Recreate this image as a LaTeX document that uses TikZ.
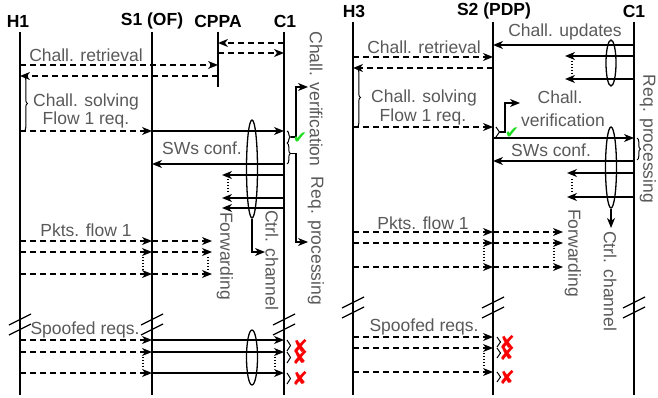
\documentclass[tikz,border=0pt]{standalone}
\usepackage{fontspec}
\setmainfont{Liberation Sans}
\newfontfamily\symfont{DejaVu Sans}
\usetikzlibrary{arrows.meta, positioning, shapes.geometric, decorations.pathreplacing}
\definecolor{txtcolor}{RGB}{89, 89, 89}
\definecolor{okcolor} {RGB}{30, 220, 30}
\definecolor{kocolor} {RGB}{250, 0, 0}
\tikzset{
	life/.style={
		line width=1.3pt, color=black
	},
	arrow/.style={
		-{Stealth[length=10pt, width=8pt, inset=3pt]}, line width=1.3pt, color=black
	},
	dasharrow/.style={
		-{Stealth[length=10pt, width=8pt, inset=3pt]}, dash pattern=on 6pt off 4pt,
		line width=1.3pt, color=black
	},
	dots/.style={
		line width=1.3pt, dash pattern=on 1.3pt off 1.6pt
	},
	brk/.style={
		line width=1.3pt
	},
	brc/.style={
		decorate, decoration={brace, amplitude=3.5pt}, line width=1pt
	},
	chanell/.style={
		ellipse, draw, line width=1.3pt, minimum width=11pt, inner sep=0pt
	},
	head/.style={
		font=\fontsize{17.5}{20}\selectfont\bfseries, inner sep=0pt
	},
	lbl/.style={
		font=\fontsize{17.5}{20}\selectfont, text=txtcolor, inner sep=0pt
	},
	chk/.style={
		font=\symfont\fontsize{17}{17}\selectfont, text=okcolor, inner sep=0pt
	},
	nok/.style={
		font=\symfont\fontsize{19}{19}\selectfont, text=kocolor, inner sep=0pt
	}
}
\begin{document}
\begin{tikzpicture}[x=1pt, y=-1pt]
	\useasboundingbox (0,0) rectangle (658,398);
	
	%% ===============================
	%%  LEFT — H1, S1 (OF), CPPA, C1
	%% ===============================
	\node[head] (h1lbl)   at (18,21)  {H1};
	\node[head] (s1lbl)   at (152,21) {S1 (OF)};
	\node[head] (cppalbl) at (218,21) {CPPA};
	\node[head] (calbl)   at (285,21) {C1};
	
	\coordinate (h1)   at (20,32);
	\coordinate (s1)   at (152,32);
	\coordinate (cppa) at (218,32);
	\coordinate (ca)   at (284,32);
	\coordinate (fwda) at (222,0);
	\coordinate (fwdb) at (212,0);
	
	\draw[life] (h1)   -- (h1 |- 0,395);
	\draw[life] (s1)   -- (s1 |- 0,395);
	\draw[life] (cppa) -- (cppa |- 0,87);
	\draw[life] (ca)   -- (ca |- 0,395);
	
	% challenge retrieval
	\draw[dasharrow] (ca |- 0,43) -- (cppa |- 0,43);
	\draw[dasharrow] (cppa |- 0,53) -- (ca |- 0,53);
	\node[lbl] (retra) at (86,55) {Chall. retrieval};
	\draw[dasharrow] (h1 |- 0,65) -- (cppa |- 0,65);
	\draw[dasharrow] (cppa |- 0,76) -- (h1 |- 0,76);
	
	% challenge solving + flow 1 request
	\draw[brc] (24,76) -- (24,131);
	\node[lbl] (solva) at (86,102) {Chall. solving};
	\node[lbl] (reqa)  at (86,120) {Flow 1 req.};
	\draw[dasharrow] (h1 |- 0,131) -- (s1 |- 0,131);
	\draw[arrow] (s1 |- 0,131) -- (ca |- 0,131);
	
	% verification / processing at C1
	\draw[brc] (287,131) -- (287,143);
	\draw[brc] (287,143) -- (287,164);
	\coordinate (tipa) at (291,137);
	\coordinate (tipb) at (291,153.5);
	\coordinate (va)   at (308,87);
	\coordinate (pa)   at (308,242);
	\draw[arrow] (tipa) -- ++(5,0) |- (va);
	\draw[arrow] (tipb) -- ++(5,0) |- (pa);
	\node[chk] (oka) at (300,138) {✔};
	\node[lbl, rotate=-90] (verifa) at (316,99)  {Chall. verification};
	\node[lbl, rotate=-90] (proca)  at (316,241) {Req. processing};
	
	% switches configuration
	\node[lbl] (confa) at (202,148) {SWs conf.};
	\draw[arrow] (ca |- 0,164) -- (s1 |- 0,164);
	\draw[arrow] (ca |- 0,175) -- (fwda |- 0,175);
	\draw[arrow] (ca |- 0,198) -- (fwda |- 0,198);
	\draw[arrow] (ca |- 0,208) -- (fwda |- 0,208);
	\draw[dots] (228,179) -- (228,193);
	\node[chanell, minimum height=98pt] (chana) at (252,169) {};
	\coordinate (ctrla) at (265,252);
	\draw[arrow] (chana.south) |- (ctrla);
	\node[lbl, rotate=-90] (ctrllbla) at (272,260) {Ctrl. channel};
	\node[lbl, rotate=-90] (fwdlbla)  at (225,256) {Forwarding};
	
	% packets of flow 1
	\node[lbl] (pktsa) at (86,230) {Pkts. flow 1};
	\draw[dasharrow] (h1 |- 0,241) -- (s1 |- 0,241);
	\draw[dasharrow] (h1 |- 0,252) -- (s1 |- 0,252);
	\draw[dasharrow] (h1 |- 0,274) -- (s1 |- 0,274);
	\draw[dasharrow] (s1 |- 0,241) -- (fwdb |- 0,241);
	\draw[dasharrow] (s1 |- 0,252) -- (fwdb |- 0,252);
	\draw[dasharrow] (s1 |- 0,274) -- (fwdb |- 0,274);
	\draw[dots] (143,257) -- (143,269);
	\draw[dots] (208,257) -- (208,269);
	
	% time breaks
	\draw[brk] (9,325) -- (31,314);
	\draw[brk] (9,335) -- (31,324);
	\draw[brk] (141,325) -- (163,314);
	\draw[brk] (141,335) -- (163,324);
	\draw[brk] (273,325) -- (295,314);
	\draw[brk] (273,335) -- (295,324);
	
	% spoofed requests
	\node[lbl] (spoofa) at (85,330) {Spoofed reqs.};
	\draw[dasharrow] (h1 |- 0,340) -- (s1 |- 0,340);
	\draw[dasharrow] (h1 |- 0,352) -- (s1 |- 0,352);
	\draw[dasharrow] (h1 |- 0,373) -- (s1 |- 0,373);
	\draw[arrow] (s1 |- 0,340) -- (ca |- 0,340);
	\draw[arrow] (s1 |- 0,352) -- (ca |- 0,352);
	\draw[arrow] (s1 |- 0,373) -- (ca |- 0,373);
	\draw[dots] (143,357) -- (143,368);
	\draw[dots] (275,357) -- (275,368);
	\node[chanell, minimum height=55pt] (spfa) at (252,357.5) {};
	\draw[brc] (287,340) -- (287,351);
	\draw[brc] (287,352) -- (287,363);
	\draw[brc] (287,373) -- (287,384);
	\node[nok] (koa) at (300,346) {✘};
	\node[nok] (kob) at (300,357) {✘};
	\node[nok] (koc) at (300,378.5) {✘};
	
	%% ===============================
	%%  RIGHT — H3, S2 (PDP), C1
	%% ===============================
	\node[head] (h3lbl) at (354,11) {H3};
	\node[head] (s2lbl) at (494,11) {S2 (PDP)};
	\node[head] (cblbl) at (634,11) {C1};
	
	\coordinate (h3)   at (353,22);
	\coordinate (s2)   at (493,22);
	\coordinate (cb)   at (634,22);
	\coordinate (updb) at (565,0);
	\coordinate (fwdd) at (567,0);
	\coordinate (fwdc) at (563,0);
	
	\draw[life] (h3) -- (h3 |- 0,395);
	\draw[life] (s2) -- (s2 |- 0,395);
	\draw[life] (cb) -- (cb |- 0,395);
	
	% challenge updates
	\node[lbl] (updlbl) at (565,32) {Chall. updates};
	\draw[arrow] (cb |- 0,45) -- (s2 |- 0,45);
	\draw[arrow] (cb |- 0,56) -- (updb |- 0,56);
	\draw[arrow] (cb |- 0,79) -- (updb |- 0,79);
	\draw[dots] (572,61) -- (572,73);
	\node[chanell, minimum width=10pt, minimum height=46pt] (updc) at (611,63) {};
	
	% challenge retrieval
	\node[lbl] (retrb) at (424,47) {Chall. retrieval};
	\draw[dasharrow] (h3 |- 0,57) -- (s2 |- 0,57);
	\draw[dasharrow] (s2 |- 0,68) -- (h3 |- 0,68);
	
	% challenge solving + flow 1 request
	\draw[brc] (357,68) -- (357,127);
	\node[lbl] (solvb) at (424,98)  {Chall. solving};
	\node[lbl] (reqb)  at (423,117) {Flow 1 req.};
	\draw[dasharrow] (h3 |- 0,127) -- (s2 |- 0,127);
	
	% verification at S2
	\draw[brc] (496,127) -- (496,137);
	\coordinate (tipc) at (500,132);
	\coordinate (vb)   at (520,103);
	\draw[arrow] (tipc) -- ++(5,0) |- (vb);
	\node[chk] (okb) at (512,133) {✔};
	\node[lbl] (verifb1) at (560,97)  {Chall.};
	\node[lbl] (verifb2) at (563,120) {verification};
	
	% request processing at C1
	\draw[arrow] (s2 |- 0,138) -- (cb |- 0,138);
	\draw[brc] (637,138) -- (637,160);
	\node[lbl, rotate=-90] (procb) at (648,139) {Req. processing};
	
	% switches configuration
	\node[lbl] (confb) at (551,150) {SWs conf.};
	\draw[arrow] (cb |- 0,161) -- (s2 |- 0,161);
	\draw[arrow] (cb |- 0,173) -- (fwdd |- 0,173);
	\draw[arrow] (cb |- 0,197) -- (fwdd |- 0,197);
	\draw[dots] (572,179) -- (572,191);
	\node[chanell, minimum height=81pt] (chanb) at (611,167.5) {};
	\coordinate (ctrlb) at (611,228);
	\draw[arrow] (chanb.south) -- (ctrlb);
	\node[lbl, rotate=-90] (ctrllblb) at (610,281) {Ctrl. channel};
	\node[lbl, rotate=-90] (fwdlblb)  at (573,253) {Forwarding};
	
	% packets of flow 1
	\node[lbl] (pktsb) at (423,223) {Pkts. flow 1};
	\draw[dasharrow] (h3 |- 0,232) -- (s2 |- 0,232);
	\draw[dasharrow] (h3 |- 0,243) -- (s2 |- 0,243);
	\draw[dasharrow] (h3 |- 0,267) -- (s2 |- 0,267);
	\draw[dasharrow] (s2 |- 0,232) -- (fwdc |- 0,232);
	\draw[dasharrow] (s2 |- 0,243) -- (fwdc |- 0,243);
	\draw[dasharrow] (s2 |- 0,267) -- (fwdc |- 0,267);
	\draw[dots] (484,248) -- (484,262);
	\draw[dots] (554,248) -- (554,262);
	
	% time breaks
	\draw[brk] (342,308) -- (364,297);
	\draw[brk] (342,318) -- (364,307);
	\draw[brk] (482,308) -- (504,297);
	\draw[brk] (482,318) -- (504,307);
	\draw[brk] (623,308) -- (645,297);
	\draw[brk] (623,318) -- (645,307);
	
	% spoofed requests
	\node[lbl] (spoofb) at (424,327) {Spoofed reqs.};
	\draw[dasharrow] (h3 |- 0,337) -- (s2 |- 0,337);
	\draw[dasharrow] (h3 |- 0,348) -- (s2 |- 0,348);
	\draw[dasharrow] (h3 |- 0,372) -- (s2 |- 0,372);
	\draw[dots] (484,353) -- (484,367);
	\draw[brc] (497,337) -- (497,347);
	\draw[brc] (497,348) -- (497,358);
	\draw[brc] (497,372) -- (497,382);
	\node[nok] (kod) at (507,342.5) {✘};
	\node[nok] (koe) at (507,353) {✘};
	\node[nok] (kof) at (507,377) {✘};
	
\end{tikzpicture}
\end{document}
